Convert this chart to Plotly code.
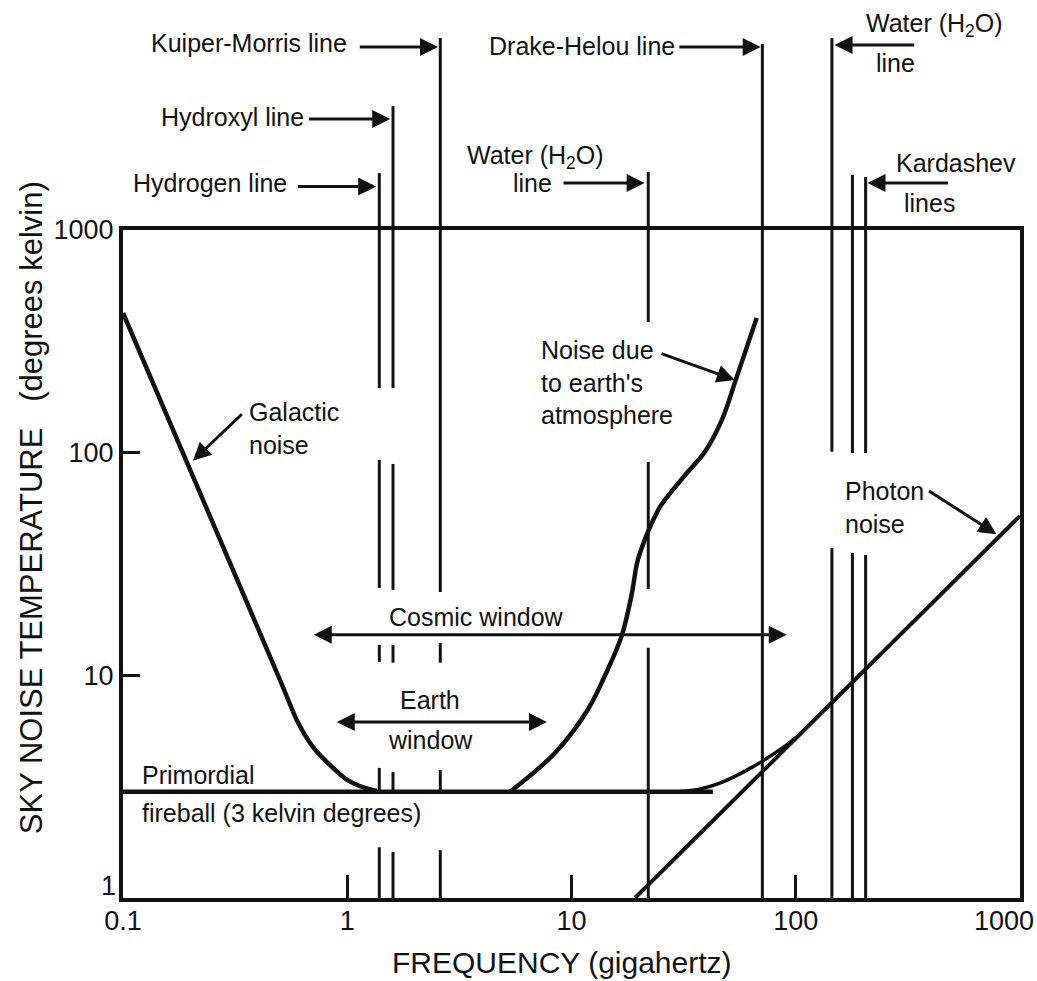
import numpy as np
import plotly.graph_objects as go

# ---------------- data ----------------
galactic_freq = [0.1, 0.5, 0.6, 0.7, 0.85, 1.0, 1.2, 1.35]
galactic_temp = [424, 9.6, 6.2, 4.8, 3.9, 3.39, 3.12, 3.03]

atmos_freq = [5.32, 8.44, 11.8, 14.5, 16.8, 18.6, 19.6, 20.8, 22.4, 24.8, 28.3, 33.0, 39.3, 46.8, 54.6, 67.0]
atmos_temp = [3.0, 4.48, 6.99, 10.6, 15.2, 23.4, 31.9, 38.5, 46.4, 57, 68, 81.9, 100.7, 140, 219, 403]

primordial_freq = [0.1, 42.7]
primordial_temp = [3.0, 3.0]

total_freq = [30.0, 38.0, 45.9, 64.3, 91.2, 100.0]
total_temp = [3.0, 3.1, 3.28, 3.88, 4.87, 5.25]

photon_freq = [19.2, 1000]
photon_temp = [1.0, 52]

# spectral lines: frequency (GHz), upper end above the frame (K-equivalent), visible segments (K)
spec_names = ["Hydrogen", "Hydroxyl", "Kuiper-Morris", "Water 22", "Drake-Helou",
              "Water 145", "Kardashev 1", "Kardashev 2"]
spec_freq = [1.39, 1.60, 2.6, 22.0, 71.0, 145.0, 179.0, 205.0]
spec_top = [1800, 3600, 7280, 1820, 6840, 7280, 1770, 1730]
spec_segments = [
    [(195, None), (24.7, 92.7), (11.5, 13.7), (3.0, 3.84), (1.0, 1.69)],
    [(195, None), (24.2, 89.0), (11.4, 13.7), (3.0, 3.68), (1.0, 1.61)],
    [(23.7, None), (11.4, 14.0), (3.0, 3.76), (1.0, 1.64)],
    [(386, None), (24.4, 90.8), (1.0, 13.3)],
    [(1.0, None)],
    [(101, None), (1.0, 37.3)],
    [(99.6, None), (1.0, 35.4)],
    [(99.6, None), (1.0, 34.7)],
]

x_tick_vals = [0.1, 1, 10, 100, 1000]
x_tick_text = ["0.1", "1", "10", "100", ""]   # "1000" is placed inside the page edge below
x_last_label = "1000"
y_tick_vals = [1, 10, 100, 1000]
y_tick_text = ["", "10", "100", "1000"]       # "1" sits a little higher, placed below
y_first_label = "1"

X_LOG_RANGE = [-1, 3.0002]
Y_LOG_RANGE = [0, 3]

# ---------------- helpers ----------------
lx = np.log10
FONT = "Liberation Sans, Arial, Helvetica, sans-serif"
INK = "#111111"


def paper_y(T):
    return (lx(T) - Y_LOG_RANGE[0]) / (Y_LOG_RANGE[1] - Y_LOG_RANGE[0])


fig = go.Figure()

curve = dict(color=INK, width=4.5)
fig.add_trace(go.Scatter(x=galactic_freq, y=galactic_temp, mode="lines",
                         line=dict(shape="spline", smoothing=0.7, **curve)))
fig.add_trace(go.Scatter(x=atmos_freq, y=atmos_temp, mode="lines",
                         line=dict(shape="spline", smoothing=1.0, **curve)))
fig.add_trace(go.Scatter(x=primordial_freq, y=primordial_temp, mode="lines", line=curve))
fig.add_trace(go.Scatter(x=total_freq, y=total_temp, mode="lines",
                         line=dict(shape="spline", smoothing=0.8, color=INK, width=3.5)))
fig.add_trace(go.Scatter(x=photon_freq, y=photon_temp, mode="lines", line=dict(color=INK, width=4)))

# spectral lines: in-plot segments as a trace, parts above the frame as shapes
vx, vy = [], []
shapes = []
for f, top, segs in zip(spec_freq, spec_top, spec_segments):
    for lo, hi in segs:
        vx += [f, f, None]
        vy += [lo, 1000 if hi is None else hi, None]
        if hi is None:
            shapes.append(dict(type="line", xref="x", yref="paper",
                               x0=f, x1=f, y0=1.0, y1=paper_y(top),
                               line=dict(color=INK, width=3)))
fig.add_trace(go.Scatter(x=vx, y=vy, mode="lines", line=dict(color=INK, width=3)))

ann = []


def text_in(txt, f, T, xanchor="left", align="left"):
    ann.append(dict(text=txt, x=lx(f), y=lx(T), xref="x", yref="y", showarrow=False,
                    xanchor=xanchor, yanchor="middle", align=align, borderpad=0,
                    font=dict(family=FONT, size=25, color=INK)))


def text_top(txt, f, T, xanchor="right", align="left"):
    ann.append(dict(text=txt, x=lx(f), y=paper_y(T), xref="x", yref="paper", showarrow=False,
                    xanchor=xanchor, yanchor="middle", align=align, borderpad=0,
                    font=dict(family=FONT, size=25, color=INK)))


def arrow_in(tf, tT, hf, hT, both=False):
    ann.append(dict(text="", x=lx(hf), y=lx(hT), ax=lx(tf), ay=lx(tT),
                    xref="x", yref="y", axref="x", ayref="y", showarrow=True,
                    arrowhead=2, arrowsize=1.2, arrowwidth=3, arrowcolor=INK,
                    startarrowhead=2, startarrowsize=1.2,
                    arrowside="end+start" if both else "end", standoff=0, startstandoff=0))


def arrow_top(tf, hf, T):
    ann.append(dict(text="", x=lx(hf), y=paper_y(T), ax=lx(tf), ay=0,
                    xref="x", yref="paper", axref="x", ayref="pixel", showarrow=True,
                    arrowhead=2, arrowsize=1.2, arrowwidth=3, arrowcolor=INK, standoff=0))


# labels above the frame
text_top("Kuiper-Morris line", 1.01, 6918)
arrow_top(1.12, 2.54, 6637)
text_top("Hydroxyl line", 0.65, 3214)
arrow_top(0.664, 1.554, 3152)
text_top("Hydrogen line", 0.546, 1626)
arrow_top(0.593, 1.346, 1570)
text_top("Drake-Helou line", 29.2, 6700)
arrow_top(29.8, 69.8, 6637)
text_top("Water (H<sub>2</sub>O)", 416, 8330, xanchor="center")
text_top("line", 279, 5623, xanchor="center")
arrow_top(343, 149, 6776)
text_top("Water (H<sub>2</sub>O)", 6.88, 2128, xanchor="center")
text_top("line", 6.67, 1626, xanchor="center")
arrow_top(9.07, 21.2, 1626)
text_top("Kardashev", 516, 2000, xanchor="center")
text_top("lines", 395, 1322, xanchor="center")
arrow_top(485, 209, 1626)

# labels inside the plot
text_in("Galactic<br>noise", 0.362, 129)
arrow_in(0.344, 151, 0.205, 92)
text_in("Noise due<br>to earth's<br>atmosphere", 7.24, 207.6)
arrow_in(24.8, 280, 53.5, 212)
text_in("Photon<br>noise", 165, 56.7)
arrow_in(387, 68, 785, 43)
text_in("Cosmic window", 3.79, 18.3, xanchor="center")
arrow_in(0.698, 15.2, 91.2, 15.2, both=True)
text_in("Earth", 2.34, 7.75, xanchor="center")
text_in("window", 2.34, 5.12, xanchor="center")
arrow_in(0.884, 6.17, 7.78, 6.17, both=True)
text_in("Primordial", 0.1197, 3.57)
text_in("fireball (3 kelvin degrees)", 0.1197, 2.41)

# end tick labels, nudged like the reference
ann.append(dict(text=x_last_label, x=1.0, y=0, xref="paper", yref="paper", showarrow=False,
                xanchor="right", yanchor="top", yshift=-6, xshift=16,
                font=dict(family=FONT, size=27, color=INK)))
ann.append(dict(text=y_first_label, x=0, y=0, xref="paper", yref="paper", showarrow=False,
                xanchor="right", yanchor="middle", yshift=12, xshift=-5,
                font=dict(family=FONT, size=27, color=INK)))

# axis titles
ann.append(dict(text="SKY NOISE TEMPERATURE\u00a0\u00a0\u00a0(degrees kelvin)", textangle=-90,
                x=-0.1026, y=0.585, xref="paper", yref="paper", showarrow=False,
                xanchor="center", yanchor="middle", font=dict(family=FONT, size=31, color=INK)))
ann.append(dict(text="FREQUENCY (gigahertz)", x=0.489, y=-0.096, xref="paper", yref="paper",
                showarrow=False, xanchor="center", yanchor="middle",
                font=dict(family=FONT, size=30, color=INK)))

fig.update_layout(
    width=1037, height=981,
    margin=dict(l=123, r=17, t=230, b=83),
    paper_bgcolor="white", plot_bgcolor="white",
    showlegend=False,
    shapes=shapes,
    annotations=ann,
    xaxis=dict(type="log", range=X_LOG_RANGE, showgrid=False, zeroline=False,
               showline=True, linecolor=INK, linewidth=4, mirror=True,
               ticks="inside", ticklen=23, tickwidth=3, tickcolor=INK,
               tickvals=x_tick_vals, ticktext=x_tick_text, ticklabelstandoff=-4,
               tickfont=dict(family=FONT, size=27, color=INK)),
    yaxis=dict(type="log", range=Y_LOG_RANGE, showgrid=False, zeroline=False,
               showline=True, linecolor=INK, linewidth=4, mirror=True,
               ticks="inside", ticklen=17, tickwidth=3, tickcolor=INK,
               tickvals=y_tick_vals, ticktext=y_tick_text,
               tickfont=dict(family=FONT, size=27, color=INK)),
)

fig.write_html("out.html", config={"displayModeBar": False},
               post_script="document.body.style.margin='0';")
